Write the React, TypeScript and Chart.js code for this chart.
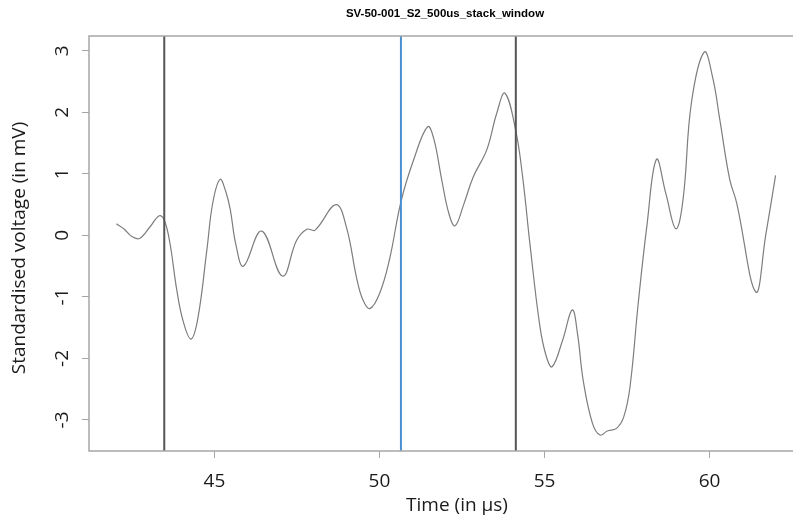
import React, { useEffect, useRef } from "react";
import { Chart, registerables } from "chart.js";
Chart.register(...registerables);

const chartTitle = "SV-50-001_S2_500us_stack_window";
const xTitle = "Time (in µs)";
const yTitle = "Standardised voltage (in mV)";

const timeUs = [
  42.03, 42.27, 42.5, 42.73, 43.05, 43.33, 43.48, 43.65, 43.86, 44.05,
  44.29, 44.5, 44.77, 44.95, 45.17, 45.35, 45.48, 45.65, 45.88, 46.43,
  47.06, 47.49, 47.8, 48.05, 48.68, 49.0, 49.31, 49.5, 49.71, 50.0,
  50.3, 50.65, 51.03, 51.46, 51.65, 51.88, 52.1, 52.29, 52.55, 52.84,
  53.25, 53.55, 53.8, 54.13, 54.35, 54.56, 54.86, 55.05, 55.23, 55.55,
  55.84, 56.0, 56.17, 56.45, 56.68, 56.9, 57.18, 57.4, 57.59, 57.84,
  58.1, 58.39, 58.68, 58.98, 59.2, 59.45, 59.84, 60.1, 60.31, 60.61,
  60.82, 61.4, 61.7, 62.0,
];
const voltage = [
  0.19, 0.1, -0.02, -0.05, 0.14, 0.32, 0.25, -0.12, -0.89, -1.39,
  -1.685, -1.34, -0.24, 0.53, 0.91, 0.7, 0.42, -0.15, -0.5, 0.07,
  -0.66, -0.08, 0.1, 0.086, 0.5, 0.13, -0.7, -1.05, -1.19, -0.95,
  -0.4, 0.546, 1.22, 1.765, 1.56, 0.92, 0.36, 0.156, 0.5, 0.95,
  1.39, 1.98, 2.31, 1.7, 0.89, -0.15, -1.48, -1.96, -2.135, -1.7,
  -1.21, -1.6, -2.35, -3.05, -3.245, -3.18, -3.136, -2.95, -2.46, -1.095,
  0.15, 1.235, 0.67, 0.107, 0.6, 2.155, 2.98, 2.55, 1.88, 0.91,
  0.53, -0.92, 0.0, 0.975,
];
const blackMarkers = [43.48, 54.13];
const blueMarkers = [50.65];
const xTicks = [45, 50, 55, 60];
const yTicks = [-3, -2, -1, 0, 1, 2, 3];
const xRange = [41.2, 62.8];
const yRange = [-3.504, 3.24];

const CANVAS_W = 815;
const CANVAS_H = 520;
const GRAY = "#a6a6a6";
const FONT = "'Open Sans', 'DejaVu Sans', sans-serif";

export default function App() {
  const ref = useRef<HTMLCanvasElement | null>(null);

  useEffect(() => {
    const canvas = ref.current;
    if (!canvas) return;

    const markerSet = (xs: number[], color: string) =>
      xs.map((t) => ({
        data: [
          { x: t, y: yRange[0] },
          { x: t, y: yRange[1] },
        ],
        borderColor: color,
        borderWidth: 2,
        pointRadius: 0,
        tension: 0,
      }));

    const decor = {
      id: "decor",
      afterDraw(chart: any) {
        const { ctx, chartArea } = chart;
        const ys = chart.scales.y;
        ctx.save();
        ctx.strokeStyle = GRAY;
        ctx.lineWidth = 1.5;
        ctx.strokeRect(
          chartArea.left,
          chartArea.top,
          chartArea.right - chartArea.left,
          chartArea.bottom - chartArea.top
        );
        ctx.fillStyle = "#1a1a1a";
        ctx.font = `19px ${FONT}`;
        ctx.textAlign = "center";
        ctx.textBaseline = "middle";
        yTicks.forEach((v) => {
          const py = ys.getPixelForValue(v);
          ctx.save();
          ctx.translate(63, py);
          ctx.rotate(-Math.PI / 2);
          ctx.fillText(String(v), 0, 0);
          ctx.restore();
        });
        ctx.save();
        ctx.translate(20, 248);
        ctx.rotate(-Math.PI / 2);
        ctx.fillText(yTitle, 0, 0);
        ctx.restore();
        ctx.fillText(xTitle, 457, 506);
        ctx.font = `bold 11.5px 'Liberation Sans', Arial, sans-serif`;
        ctx.fillStyle = "#000";
        ctx.fillText(chartTitle, 445, 14);
        ctx.restore();
      },
    };

    const chart = new Chart(canvas, {
      type: "line",
      data: {
        datasets: [
          ...markerSet(blueMarkers, "#4a90d0"),
          ...markerSet(blackMarkers, "#555555"),
          {
            data: timeUs.map((t, i) => ({ x: t, y: voltage[i] })),
            borderColor: "#7d7d7d",
            borderWidth: 1.2,
            pointRadius: 0,
            tension: 0.4,
          },
        ],
      },
      options: {
        animation: false,
        responsive: false,
        devicePixelRatio: 1,
        layout: { padding: { top: 36, right: CANVAS_W - 802, left: 0, bottom: 0 } },
        plugins: {
          legend: { display: false },
          tooltip: { enabled: false },
          title: { display: false },
        },
        scales: {
          x: {
            type: "linear",
            min: xRange[0],
            max: xRange[1],
            afterBuildTicks: (s: any) => {
              s.ticks = xTicks.map((v) => ({ value: v }));
            },
            afterFit: (s: any) => {
              s.height = 69;
            },
            grid: {
              drawOnChartArea: false,
              drawTicks: true,
              tickLength: 7,
              color: GRAY,
              lineWidth: 1,
            },
            border: { display: false },
            ticks: {
              font: { family: FONT, size: 19 },
              color: "#1a1a1a",
              padding: 12,
              maxRotation: 0,
              autoSkip: false,
            },
          },
          y: {
            type: "linear",
            min: yRange[0],
            max: yRange[1],
            afterBuildTicks: (s: any) => {
              s.ticks = yTicks.map((v) => ({ value: v }));
            },
            afterFit: (s: any) => {
              s.width = 89;
            },
            grid: {
              drawOnChartArea: false,
              drawTicks: true,
              tickLength: 7,
              color: GRAY,
              lineWidth: 1,
            },
            border: { display: false },
            ticks: { display: false },
          },
        },
      },
      plugins: [decor],
    });

    return () => chart.destroy();
  }, []);

  return (
    <div
      style={{
        position: "absolute",
        left: 0,
        top: 0,
        width: 793,
        height: 520,
        overflow: "hidden",
        background: "#fff",
      }}
    >
      <canvas
        ref={ref}
        width={CANVAS_W}
        height={CANVAS_H}
        style={{ width: CANVAS_W, height: CANVAS_H, display: "block" }}
      />
    </div>
  );
}
